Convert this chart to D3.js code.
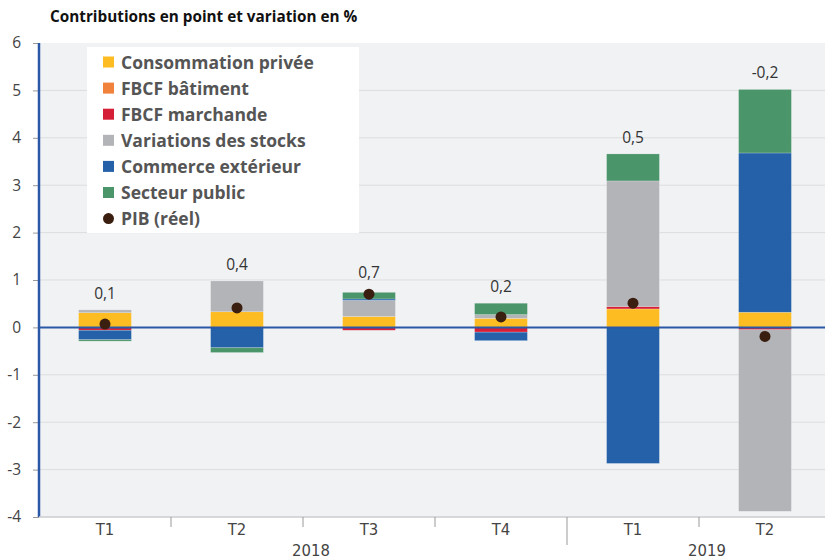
<!DOCTYPE html>
<html>
<head>
<meta charset="utf-8">
<script src="https://cdn.jsdelivr.net/npm/d3@7"></script>
<style>
  body { margin: 0; background: #fff; }
  svg { display: block; }
</style>
</head>
<body>
<svg id="chart" width="825" height="559"></svg>
<script>
// quarters and years
const quarters = ["T1", "T2", "T3", "T4", "T1", "T2"];
const years = ["2018", "2018", "2018", "2018", "2019", "2019"];

// contributions (points)
const consommation = [0.31, 0.33, 0.23, 0.19, 0.39, 0.32];
const batiment = [0, 0, 0, 0, 0, 0];
const marchande = [-0.06, 0, -0.06, -0.10, 0.05, -0.05];
const stocks = [0.06, 0.65, 0.34, 0.08, 2.65, -3.83];
const exterieur = [-0.20, -0.43, 0.03, -0.18, -2.87, 3.36];
const secteurPublic = [-0.03, -0.10, 0.14, 0.24, 0.57, 1.34];
const pib = [0.07, 0.41, 0.70, 0.22, 0.51, -0.19];

const yTicks = [-4, -3, -2, -1, 0, 1, 2, 3, 4, 5, 6];

const seriesNames = ["Consommation privée", "FBCF bâtiment", "FBCF marchande",
  "Variations des stocks", "Commerce extérieur", "Secteur public"];
const seriesColors = ["#fdbc21", "#f0823b", "#d51f36", "#b3b4b8", "#2461a8", "#4b956b"];

const width = 825, height = 559;
const margin = { top: 43, right: -6, bottom: 42, left: 39 };

const svg = d3.select("#chart");
const fontAxis = "'Liberation Sans Narrow', 'DejaVu Sans Condensed', sans-serif";
const fontMain = "'Open Sans', 'DejaVu Sans', sans-serif";

const keys = quarters.map((q, i) => years[i] + "-" + q);
const rows = keys.map((k, i) => ({
  key: k,
  s0: consommation[i], s1: batiment[i], s2: marchande[i],
  s3: stocks[i], s4: exterieur[i], s5: secteurPublic[i],
  pib: pib[i]
}));

const x = d3.scaleBand()
  .domain(keys)
  .range([margin.left, width - margin.right])
  .paddingInner(0.6)
  .paddingOuter(0.3);

const y = d3.scaleLinear()
  .domain([-4, 6])
  .range([height - margin.bottom, margin.top]);

// plot background
svg.append("rect")
  .attr("x", margin.left).attr("y", y(6))
  .attr("width", width - margin.left).attr("height", y(-4) - y(6))
  .attr("fill", "#f1f2f4");

// title
svg.append("text")
  .attr("x", 50).attr("y", 22)
  .attr("font-family", fontMain).attr("font-weight", 700)
  .attr("font-size", 15.3).attr("fill", "#111")
  .text("Contributions en point et variation en %");

// grid
svg.append("g")
  .selectAll("line")
  .data(yTicks.filter(d => d !== 0 && d !== 6))
  .join("line")
  .attr("x1", margin.left).attr("x2", width)
  .attr("y1", d => y(d)).attr("y2", d => y(d))
  .attr("stroke", "#dcdde1").attr("stroke-width", 1);

// y axis
const yAxis = svg.append("g")
  .attr("transform", `translate(${margin.left},0)`)
  .call(d3.axisLeft(y).tickValues(yTicks).tickSize(6).tickPadding(12).tickFormat(d => String(d)));
yAxis.select(".domain").remove();
yAxis.selectAll(".tick line").attr("stroke", "#999");
yAxis.selectAll(".tick text")
  .attr("font-family", fontMain).attr("font-size", 15.5).attr("fill", "#444");

// stacked bars
const stack = d3.stack()
  .keys(["s0", "s1", "s2", "s3", "s4", "s5"])
  .offset(d3.stackOffsetDiverging);
const stacked = stack(rows);

svg.append("g")
  .selectAll("g")
  .data(stacked)
  .join("g")
  .attr("fill", (d, i) => seriesColors[i])
  .selectAll("rect")
  .data(d => d)
  .join("rect")
  .attr("x", d => x(d.data.key))
  .attr("width", x.bandwidth())
  .attr("y", d => y(Math.max(d[0], d[1])))
  .attr("height", d => Math.abs(y(d[0]) - y(d[1])))
  .attr("stroke", "#ffffff").attr("stroke-opacity", 0.35).attr("stroke-width", 0.6);

// zero line
svg.append("line")
  .attr("x1", margin.left).attr("x2", width)
  .attr("y1", y(0)).attr("y2", y(0))
  .attr("stroke", "#2a57a6").attr("stroke-width", 2);

// y axis line
svg.append("line")
  .attr("x1", margin.left).attr("x2", margin.left)
  .attr("y1", y(6)).attr("y2", y(-4))
  .attr("stroke", "#2a57a6").attr("stroke-width", 2.5);

// PIB dots
svg.append("g")
  .selectAll("circle")
  .data(rows)
  .join("circle")
  .attr("cx", d => x(d.key) + x.bandwidth() / 2)
  .attr("cy", d => y(d.pib))
  .attr("r", 5.5)
  .attr("fill", "#3a1e0f");

// value labels
const fmt = v => d3.format(".1f")(v).replace(".", ",").replace("−", "-");
const topOf = d => {
  const pos = [d.s0, d.s1, d.s2, d.s3, d.s4, d.s5].filter(v => v > 0);
  return Math.min(y(d3.sum(pos)), y(d.pib) - 5);
};
svg.append("g")
  .selectAll("text")
  .data(rows)
  .join("text")
  .attr("x", d => x(d.key) + x.bandwidth() / 2)
  .attr("y", d => topOf(d) - 11)
  .attr("text-anchor", "middle")
  .attr("font-family", fontMain).attr("font-size", 15.5).attr("fill", "#333")
  .text(d => fmt(d.pib));

// x axis
const baseY = y(-4);
svg.append("line")
  .attr("x1", margin.left).attr("x2", width)
  .attr("y1", baseY).attr("y2", baseY)
  .attr("stroke", "#cfd0d3").attr("stroke-width", 1.5);

const step = x.step();
const bounds = keys.slice(1).map((k, i) => ({
  xPos: x(k) - (step - x.bandwidth()) / 2,
  yearBreak: years[i + 1] !== years[i]
}));
svg.append("g")
  .selectAll("line")
  .data(bounds)
  .join("line")
  .attr("x1", d => d.xPos).attr("x2", d => d.xPos)
  .attr("y1", baseY).attr("y2", d => d.yearBreak ? baseY + 28 : baseY + 10)
  .attr("stroke", "#999").attr("stroke-width", 1);

svg.append("g")
  .selectAll("text")
  .data(rows)
  .join("text")
  .attr("x", d => x(d.key) + x.bandwidth() / 2)
  .attr("y", baseY + 18)
  .attr("text-anchor", "middle")
  .attr("font-family", fontAxis).attr("font-size", 16.5).attr("fill", "#444")
  .text((d, i) => quarters[i]);

const yearGroups = d3.groups(keys, k => years[keys.indexOf(k)]);
svg.append("g")
  .selectAll("text")
  .data(yearGroups)
  .join("text")
  .attr("x", ([, ks]) => (x(ks[0]) + x(ks[ks.length - 1]) + x.bandwidth()) / 2 + 8)
  .attr("y", baseY + 39)
  .attr("text-anchor", "middle")
  .attr("font-family", fontAxis).attr("font-size", 16.5).attr("fill", "#444")
  .text(([yr]) => yr);

// legend
const legend = svg.append("g").attr("transform", "translate(87,47)");
legend.append("rect")
  .attr("width", 272).attr("height", 186)
  .attr("fill", "#ffffff");

const legendItems = seriesNames.map((n, i) => ({ name: n, color: seriesColors[i], dot: false }))
  .concat([{ name: "PIB (réel)", color: "#3a1e0f", dot: true }]);

const li = legend.selectAll("g.item")
  .data(legendItems)
  .join("g")
  .attr("class", "item")
  .attr("transform", (d, i) => `translate(0,${15 + i * 26.1})`);

li.filter(d => !d.dot).append("rect")
  .attr("x", 16).attr("y", -5.5).attr("width", 11).attr("height", 11)
  .attr("fill", d => d.color);
li.filter(d => d.dot).append("circle")
  .attr("cx", 21.5).attr("cy", 0).attr("r", 5.5)
  .attr("fill", d => d.color);
li.append("text")
  .attr("x", 34).attr("y", 6.5)
  .attr("font-family", fontMain).attr("font-weight", 700)
  .attr("font-size", 17.5).attr("fill", "#555")
  .text(d => d.name);
</script>
</body>
</html>
